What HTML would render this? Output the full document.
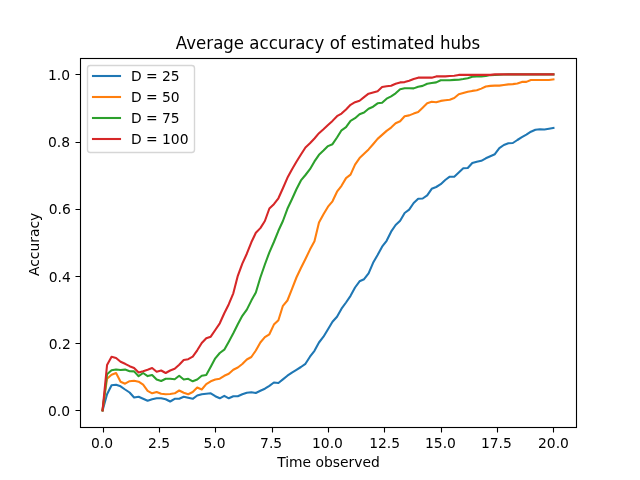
<!DOCTYPE html>
<html lang="en"><head><meta charset="utf-8"><title>Average accuracy of estimated hubs</title>
<style>html,body{margin:0;padding:0;background:#fff;overflow:hidden}svg{display:block}text{font-family:"DejaVu Sans","Liberation Sans",sans-serif;fill:#000}</style></head><body>
<svg width="640" height="480" viewBox="0 0 640 480">
<rect width="640" height="480" fill="#fff"/>
<g fill="none" stroke-width="2.083" stroke-linejoin="round" stroke-linecap="square">
<polyline stroke="#1f77b4" points="102.55,410.40 107.05,394.20 111.56,385.30 116.07,384.70 120.58,386.30 125.09,389.50 129.60,392.50 134.11,397.50 138.62,396.70 143.13,398.70 147.63,400.80 152.14,399.20 156.65,398.30 161.16,398.30 165.67,399.20 170.18,401.50 174.69,398.80 179.20,398.70 183.71,396.70 188.22,397.80 192.73,398.80 197.23,395.50 201.74,394.20 206.25,393.80 210.76,393.30 215.27,396.20 219.78,398.30 224.29,395.80 228.80,398.30 233.31,396.30 237.81,396.30 242.32,394.30 246.83,392.70 251.34,392.20 255.85,393.00 260.36,390.80 264.87,388.70 269.38,385.80 273.89,382.50 278.40,383.00 282.91,379.40 287.41,375.70 291.92,372.60 296.43,369.80 300.94,367.00 305.45,363.80 309.96,356.70 314.47,350.80 318.98,342.50 323.49,336.70 328.00,329.20 332.50,321.70 337.01,316.70 341.52,308.70 346.03,302.50 350.54,295.80 355.05,287.50 359.56,281.30 364.07,279.20 368.58,273.30 373.09,262.80 377.59,255.00 382.10,246.70 386.61,240.80 391.12,231.70 395.63,225.00 400.14,220.80 404.65,213.00 409.16,209.70 413.67,203.00 418.18,198.70 422.68,198.50 427.19,195.40 431.70,188.80 436.21,187.00 440.72,184.20 445.23,180.00 449.74,176.70 454.25,176.70 458.76,172.50 463.27,168.30 467.77,168.00 472.28,163.00 476.79,161.70 481.30,160.80 485.81,158.30 490.32,156.30 494.83,154.20 499.34,148.20 503.85,145.00 508.36,143.30 512.86,143.00 517.37,140.00 521.88,137.20 526.39,134.70 530.90,131.70 535.41,129.70 539.92,129.20 544.43,129.50 548.94,128.80 553.45,128.00"/>
<polyline stroke="#ff7f0e" points="102.55,410.40 107.05,378.70 111.56,374.70 116.07,373.00 120.58,381.70 125.09,383.70 129.60,381.20 134.11,380.80 138.62,381.70 143.13,384.70 147.63,390.80 152.14,393.30 156.65,392.00 161.16,393.80 165.67,394.20 170.18,394.00 174.69,393.30 179.20,390.50 183.71,392.80 188.22,394.20 192.73,392.00 197.23,387.50 201.74,389.50 206.25,384.20 210.76,381.30 215.27,379.50 219.78,378.70 224.29,375.80 228.80,373.70 233.31,369.70 237.81,367.50 242.32,364.00 246.83,359.50 251.34,357.00 255.85,350.50 260.36,342.50 264.87,337.20 269.38,334.30 273.89,324.60 278.40,320.20 282.91,305.80 287.41,300.50 291.92,289.10 296.43,277.50 300.94,268.00 305.45,259.00 309.96,249.60 314.47,241.30 318.98,222.50 323.49,214.20 328.00,206.70 332.50,201.30 337.01,191.70 341.52,185.80 346.03,178.10 350.54,174.70 355.05,164.60 359.56,158.10 364.07,153.80 368.58,149.40 373.09,144.20 377.59,138.90 382.10,134.90 386.61,130.90 391.12,127.60 395.63,123.30 400.14,121.20 404.65,116.20 409.16,115.40 413.67,113.60 418.18,112.00 422.68,107.65 427.19,103.30 431.70,101.80 436.21,102.20 440.72,100.90 445.23,100.30 449.74,99.70 454.25,98.05 458.76,94.30 463.27,93.05 467.77,91.80 472.28,90.90 476.79,90.30 481.30,88.60 485.81,86.55 490.32,85.90 494.83,85.60 499.34,85.60 503.85,85.00 508.36,84.40 512.86,84.10 517.37,83.50 521.88,81.90 526.39,81.90 530.90,80.00 535.41,80.00 539.92,80.00 544.43,80.00 548.94,80.00 553.45,79.40"/>
<polyline stroke="#2ca02c" points="102.55,410.40 107.05,374.20 111.56,370.30 116.07,369.50 120.58,370.00 125.09,369.60 129.60,371.20 134.11,371.40 138.62,376.20 143.13,373.00 147.63,376.10 152.14,375.00 156.65,379.50 161.16,381.00 165.67,378.80 170.18,378.70 174.69,379.30 179.20,375.80 183.71,379.50 188.22,378.80 192.73,381.30 197.23,379.50 201.74,375.80 206.25,375.00 210.76,366.70 215.27,358.30 219.78,353.00 224.29,349.70 228.80,341.70 233.31,333.30 237.81,324.20 242.32,315.80 246.83,309.60 251.34,300.60 255.85,292.50 260.36,277.50 264.87,264.50 269.38,252.30 273.89,242.00 278.40,230.80 282.91,221.00 287.41,208.80 291.92,199.20 296.43,189.20 300.94,180.40 305.45,175.00 309.96,169.20 314.47,161.40 318.98,154.80 323.49,150.60 328.00,146.10 332.50,144.20 337.01,137.50 341.52,130.30 346.03,127.20 350.54,120.80 355.05,118.20 359.56,114.20 364.07,112.50 368.58,108.70 373.09,106.70 377.59,103.30 382.10,102.80 386.61,98.70 391.12,96.30 395.63,93.30 400.14,89.20 404.65,88.30 409.16,88.30 413.67,88.40 418.18,86.70 422.68,85.90 427.19,83.80 431.70,83.05 436.21,82.40 440.72,80.30 445.23,80.30 449.74,80.30 454.25,79.90 458.76,79.70 463.27,79.05 467.77,78.20 472.28,76.80 476.79,76.55 481.30,76.40 485.81,76.00 490.32,75.10 494.83,75.00 499.34,74.75 503.85,74.50 508.36,74.40 512.86,74.40 517.37,74.40 521.88,74.40 526.39,74.40 530.90,74.40 535.41,74.40 539.92,74.40 544.43,74.40 548.94,74.40 553.45,74.40"/>
<polyline stroke="#d62728" points="102.55,410.40 107.05,365.00 111.56,356.80 116.07,358.00 120.58,361.70 125.09,363.80 129.60,366.20 134.11,368.00 138.62,372.50 143.13,371.20 147.63,369.70 152.14,368.00 156.65,371.70 161.16,370.50 165.67,373.00 170.18,370.50 174.69,368.70 179.20,364.70 183.71,360.00 188.22,359.20 192.73,356.70 197.23,350.30 201.74,343.00 206.25,338.30 210.76,336.70 215.27,330.00 219.78,323.30 224.29,313.30 228.80,304.20 233.31,293.30 237.81,275.80 242.32,263.60 246.83,253.70 251.34,242.30 255.85,232.80 260.36,228.10 264.87,221.00 269.38,208.50 273.89,204.20 278.40,198.30 282.91,188.30 287.41,177.80 291.92,169.50 296.43,161.80 300.94,154.50 305.45,147.50 309.96,143.30 314.47,138.50 318.98,133.20 323.49,129.20 328.00,125.00 332.50,120.90 337.01,116.20 341.52,113.60 346.03,109.40 350.54,104.80 355.05,102.20 359.56,100.70 364.07,97.10 368.58,93.70 373.09,92.40 377.59,91.20 382.10,87.10 386.61,86.20 391.12,85.70 395.63,83.70 400.14,82.40 404.65,82.10 409.16,80.70 413.67,79.00 418.18,77.65 422.68,77.65 427.19,77.65 431.70,77.65 436.21,76.40 440.72,76.40 445.23,76.40 449.74,76.00 454.25,75.80 458.76,74.90 463.27,74.90 467.77,74.90 472.28,74.90 476.79,74.90 481.30,74.90 485.81,74.90 490.32,74.90 494.83,74.40 499.34,74.40 503.85,74.40 508.36,74.40 512.86,74.40 517.37,74.40 521.88,74.40 526.39,74.40 530.90,74.40 535.41,74.40 539.92,74.40 544.43,74.40 548.94,74.40 553.45,74.40"/>
</g>
<g stroke="#000" stroke-width="1.111" fill="none">
<rect x="80.5" y="58.5" width="496" height="369"/>
<path d="M103.5 427.5V432.5M159.5 427.5V432.5M215.5 427.5V432.5M272.5 427.5V432.5M328.5 427.5V432.5M384.5 427.5V432.5M441.5 427.5V432.5M497.5 427.5V432.5M553.5 427.5V432.5M80.5 410.5H75.5M80.5 343.5H75.5M80.5 276.5H75.5M80.5 209.5H75.5M80.5 142.5H75.5M80.5 74.5H75.5"/>
</g>
<g font-size="13.889" text-anchor="middle">
<text x="102.05" y="448">0.0</text>
<text x="159.16" y="448">2.5</text>
<text x="214.52" y="448">5.0</text>
<text x="271.14" y="448">7.5</text>
<text x="327.50" y="448">10.0</text>
<text x="384.62" y="448">12.5</text>
<text x="440.48" y="448">15.0</text>
<text x="496.34" y="448">17.5</text>
<text x="553.46" y="448">20.0</text>
</g>
<g font-size="13.889" text-anchor="end">
<text x="70.0" y="416">0.0</text>
<text x="70.75" y="349">0.2</text>
<text x="70.75" y="282">0.4</text>
<text x="70.75" y="214">0.6</text>
<text x="70.0" y="147">0.8</text>
<text x="70.0" y="80">1.0</text>
</g>
<text transform="translate(328 49.0) scale(0.998 1.105)" font-size="16.667" text-anchor="middle">Average accuracy of estimated hubs</text>
<text x="328.5" y="467.0" font-size="13.889" text-anchor="middle">Time observed</text>
<text transform="translate(38.6 244.4) rotate(-90)" font-size="13.889" text-anchor="middle">Accuracy</text>
<rect x="87.5" y="65.5" width="107" height="87" rx="2.78" ry="2.78" fill="#fff" fill-opacity="0.8" stroke="#ccc" stroke-opacity="0.8" stroke-width="1.389"/>
<g stroke-width="2.09" fill="none">
<path stroke="#1f77b4" d="M91.955 76H121.045"/>
<path stroke="#ff7f0e" d="M91.955 97H121.045"/>
<path stroke="#2ca02c" d="M91.955 118H121.045"/>
<path stroke="#d62728" d="M91.955 139H121.045"/>
</g>
<g font-size="13.889">
<text x="130.9" y="81">D = 25</text>
<text x="130.9" y="102">D = 50</text>
<text x="130.9" y="123">D = 75</text>
<text x="130.9" y="144">D = 100</text>
</g>
</svg></body></html>
